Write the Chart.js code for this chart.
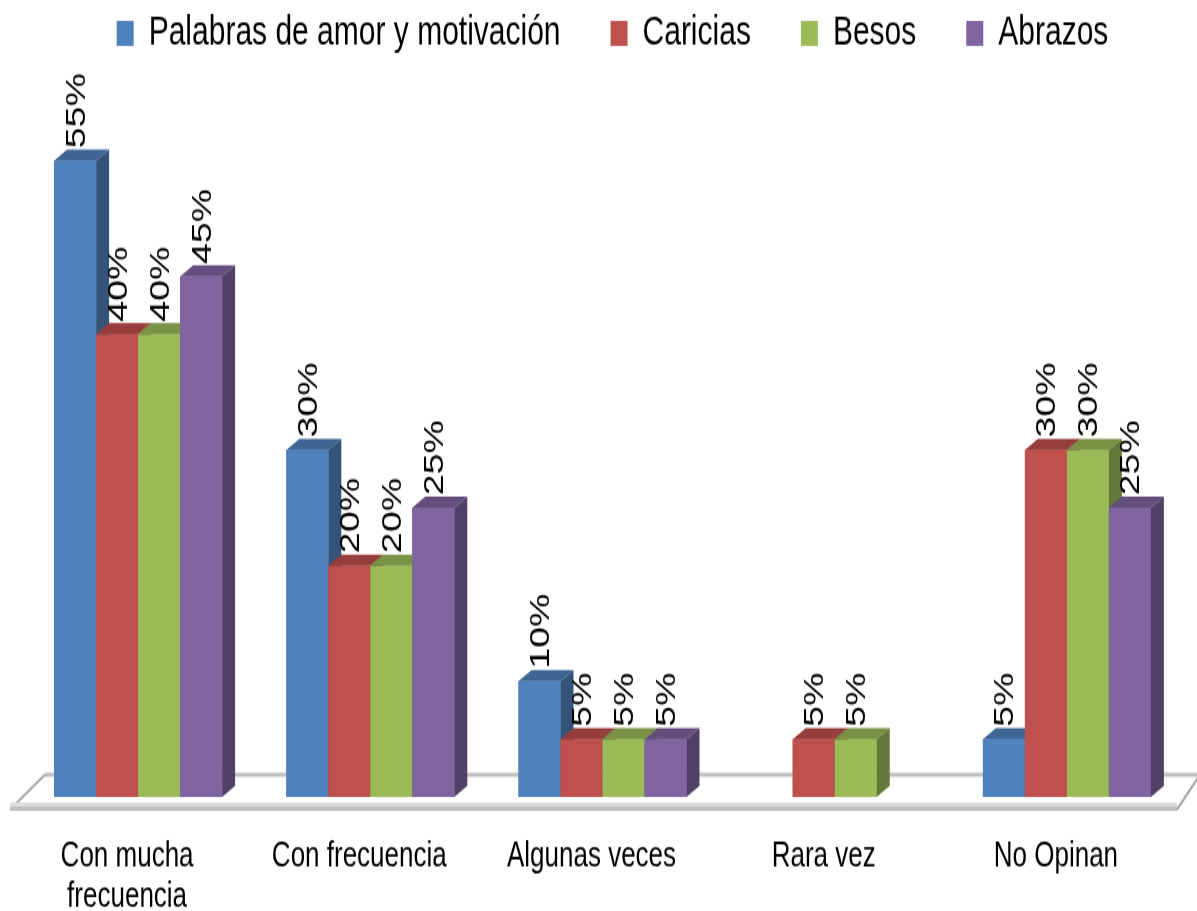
<!DOCTYPE html>
<html>
<head>
<meta charset="utf-8">
<script src="https://cdn.jsdelivr.net/npm/chart.js@4.4.1/dist/chart.umd.min.js"></script>
<style>
  body { margin: 0; background: #fff; overflow: hidden; }
</style>
</head>
<body>
<!-- el lienzo se dibuja a 655px de alto y se estira a 911px como en la imagen original -->
<canvas id="grafico" width="1197" height="655" style="width:1197px;height:911px;display:block"></canvas>
<script>
var categorias = [['Con mucha', 'frecuencia'], 'Con frecuencia', 'Algunas veces', 'Rara vez', 'No Opinan'];
var series = ['Palabras de amor y motivación', 'Caricias', 'Besos', 'Abrazos'];
var palabras = [55, 30, 10, null, 5];
var caricias = [40, 20, 5, 5, 30];
var besos = [40, 20, 5, 5, 30];
var abrazos = [45, 25, 5, null, 25];
var colores = ['#4F81BD', '#C0504D', '#9BBB59', '#8064A2'];

var DX = 13, DY = 8;

function oscurecer(hex, f) {
    var n = parseInt(hex.slice(1), 16);
    var r = Math.round((n >> 16) * f);
    var g = Math.round(((n >> 8) & 255) * f);
    var b = Math.round((n & 255) * f);
    return 'rgb(' + r + ',' + g + ',' + b + ')';
}

//Piso y barras 3D//
var barras3d = {
    id: 'barras3d',
    afterLayout: function (chart) {
        // la leyenda del original esta algo corrida a la derecha
        chart.legend.left += 10;
        chart.legend.right += 10;
    },
    beforeDatasetsDraw: function (chart) {
        var ctx = chart.ctx;
        var a = chart.chartArea;
        var b = a.bottom;
        ctx.save();
        ctx.strokeStyle = '#c0c0c0';
        ctx.lineWidth = 3;
        ctx.beginPath();
        ctx.moveTo(a.left + 23, b - 16);
        ctx.lineTo(a.right + 17, b - 16);
        ctx.stroke();
        ctx.strokeStyle = '#a6a6a6';
        ctx.lineWidth = 2;
        ctx.beginPath();
        ctx.moveTo(a.left - 12, b + 9);
        ctx.lineTo(a.left + 23, b - 16);
        ctx.moveTo(a.right - 6, b + 9);
        ctx.lineTo(a.right + 17, b - 16);
        ctx.stroke();
        ctx.fillStyle = '#dcdcdc';
        ctx.fillRect(a.left - 12, b + 4, a.right - a.left + 6, 3);
        ctx.fillStyle = '#bfbfbf';
        ctx.fillRect(a.left - 12, b + 7, a.right - a.left + 6, 3);
        ctx.restore();
    },
    afterDatasetsDraw: function (chart) {
        var ctx = chart.ctx;
        var datasets = chart.data.datasets;
        ctx.save();
        for (var i = 0; i < chart.data.labels.length; i++) {
            datasets.forEach(function (ds, d) {
                if (ds.data[i] == null) return;
                var bar = chart.getDatasetMeta(d).data[i];
                var x0 = bar.x - bar.width / 2, x1 = bar.x + bar.width / 2;
                var top = bar.y, base = bar.base;
                ctx.fillStyle = ds.backgroundColor;
                ctx.fillRect(x0, top, x1 - x0, base - top);
                ctx.fillStyle = oscurecer(ds.backgroundColor, 0.78);
                ctx.beginPath();
                ctx.moveTo(x0, top);
                ctx.lineTo(x0 + DX, top - DY);
                ctx.lineTo(x1 + DX, top - DY);
                ctx.lineTo(x1, top);
                ctx.closePath();
                ctx.fill();
                ctx.fillStyle = oscurecer(ds.backgroundColor, 0.64);
                ctx.beginPath();
                ctx.moveTo(x1, top);
                ctx.lineTo(x1 + DX, top - DY);
                ctx.lineTo(x1 + DX, base - DY);
                ctx.lineTo(x1, base);
                ctx.closePath();
                ctx.fill();
            });
        }
        // etiquetas verticales
        ctx.fillStyle = '#000';
        ctx.font = '27px "Liberation Sans"';
        ctx.textAlign = 'left';
        ctx.textBaseline = 'middle';
        datasets.forEach(function (ds, d) {
            chart.getDatasetMeta(d).data.forEach(function (bar, i) {
                if (ds.data[i] == null) return;
                ctx.save();
                ctx.translate(bar.x + 2, bar.y - DY - 1);
                ctx.rotate(-Math.PI / 2);
                ctx.fillText(ds.data[i] + '%', 0, 0);
                ctx.restore();
            });
        });
        ctx.restore();
    }
};

Chart.defaults.font.family = '"Liberation Sans", Arial, sans-serif';

var grafico = new Chart(document.getElementById('grafico'), {
    type: 'bar',
    data: {
        labels: categorias,
        datasets: [
            { label: series[0], data: palabras, backgroundColor: colores[0] },
            { label: series[1], data: caricias, backgroundColor: colores[1] },
            { label: series[2], data: besos, backgroundColor: colores[2] },
            { label: series[3], data: abrazos, backgroundColor: colores[3] }
        ]
    },
    options: {
        responsive: false,
        animation: false,
        layout: {
            padding: { top: -41, bottom: -33, left: 22, right: 14 }
        },
        datasets: {
            bar: { categoryPercentage: 0.7235, barPercentage: 1 }
        },
        plugins: {
            legend: {
                position: 'top',
                labels: {
                    color: '#000',
                    font: { size: 30 },
                    boxWidth: 17,
                    boxHeight: 18,
                    padding: 50
                }
            },
            tooltip: { enabled: false }
        },
        scales: {
            x: {
                grid: { display: false, drawTicks: false },
                border: { display: false },
                ticks: {
                    color: '#000',
                    font: { size: 26, lineHeight: 1.135 },
                    padding: 28,
                    labelOffset: -11,
                    maxRotation: 0,
                    autoSkip: false
                }
            },
            y: {
                display: false,
                min: 0,
                max: 63
            }
        }
    },
    plugins: [barras3d]
});
</script>
</body>
</html>
